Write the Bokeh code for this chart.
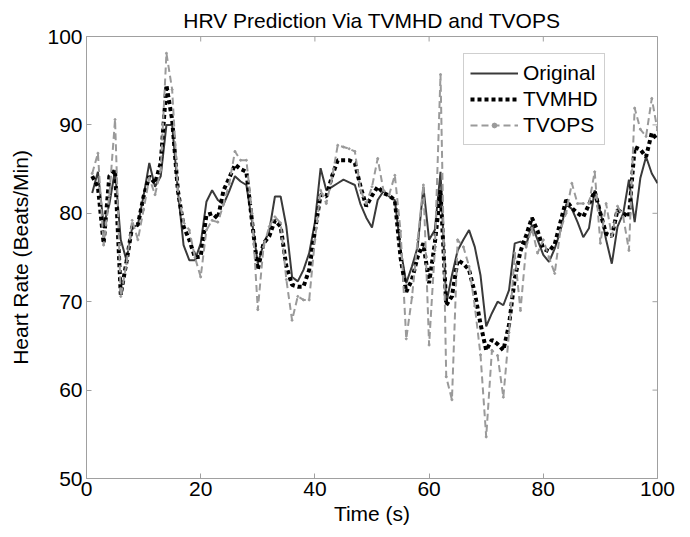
import math
from bokeh.plotting import figure
from bokeh.models import Range1d, FixedTicker, ColumnDataSource, Legend, LegendItem
from bokeh.embed import file_html
from bokeh.resources import INLINE

time_s = list(range(1, 101))

original = [
    82.3, 84.7, 78.7, 81.0, 84.9, 77.0, 74.7, 78.4, 78.7, 82.0,
    85.7, 83.0, 84.2, 90.0, 90.0, 82.6, 76.4, 74.7, 74.7, 76.6,
    81.3, 82.6, 81.5, 81.0, 82.5, 84.2, 83.6, 83.2, 79.0, 74.3,
    76.5, 78.0, 81.9, 81.9, 78.5, 72.8, 72.3, 73.6, 75.5, 79.0,
    85.1, 82.6, 83.0, 83.4, 83.8, 83.5, 83.2, 81.0, 79.5, 78.4,
    81.5, 82.5, 81.9, 81.5, 76.0, 72.1, 74.0, 76.2, 83.0, 77.0,
    78.1, 84.7, 69.8, 73.0, 75.8, 77.0, 78.1, 76.2, 73.0, 67.2,
    68.7, 70.0, 69.6, 71.3, 76.6, 76.8, 76.4, 78.7, 77.0, 75.3,
    74.5, 76.0, 78.0, 81.0, 80.5, 79.0, 77.3, 78.3, 82.6, 80.2,
    77.0, 74.3, 78.5, 80.0, 83.8, 79.0, 84.0, 86.4, 84.5, 83.4,
]

tvmhd = [
    84.2, 83.0, 76.6, 84.2, 84.9, 70.8, 74.5, 78.5, 78.7, 81.9,
    84.2, 83.4, 85.7, 94.5, 90.6, 82.6, 78.5, 77.0, 75.0, 75.1,
    79.8, 80.0, 79.4, 82.6, 84.0, 85.5, 85.0, 84.7, 79.0, 73.6,
    76.6, 77.4, 79.2, 78.5, 74.0, 71.9, 71.7, 71.7, 73.6, 78.0,
    82.1, 81.9, 84.2, 86.0, 86.0, 86.0, 85.7, 83.0, 80.8, 82.0,
    83.0, 82.3, 82.0, 81.5, 75.0, 71.1, 72.5, 75.1, 76.6, 72.1,
    76.6, 82.6, 69.6, 70.6, 74.7, 74.3, 73.6, 71.0, 67.5, 64.5,
    65.7, 65.2, 64.5, 67.4, 72.6, 75.7, 77.5, 79.5, 78.0, 76.0,
    75.7, 76.5, 79.0, 81.5, 80.6, 80.0, 79.6, 81.0, 82.5, 80.0,
    77.7, 77.4, 80.4, 80.0, 79.6, 87.5, 87.2, 86.4, 89.1, 88.3,
]

tvops = [
    84.5, 86.8, 76.4, 82.0, 90.6, 70.6, 74.3, 79.2, 77.0, 80.4,
    84.0, 82.1, 84.9, 98.1, 94.0, 82.6, 79.0, 78.1, 75.0, 72.8,
    78.1, 79.2, 79.0, 81.0, 83.4, 87.0, 86.0, 86.0, 80.0, 69.1,
    76.2, 78.5, 79.6, 78.9, 72.5, 67.9, 70.6, 70.2, 70.2, 77.0,
    82.6, 81.1, 84.0, 87.7, 87.5, 87.3, 87.0, 82.6, 81.1, 83.0,
    86.2, 82.6, 82.1, 84.3, 78.0, 65.8, 70.5, 77.0, 83.2, 65.1,
    75.8, 95.7, 61.5, 58.9, 77.0, 76.2, 74.0, 69.5, 64.0, 54.7,
    64.5, 63.9, 59.2, 66.5, 75.5, 69.0, 76.2, 78.3, 75.5, 77.0,
    75.0, 73.2, 78.1, 80.0, 83.4, 81.1, 81.1, 81.1, 84.7, 76.6,
    81.1, 77.4, 80.8, 79.6, 75.8, 91.9, 89.5, 88.7, 93.0, 89.4,
]

x_ticks = [0, 20, 40, 60, 80, 100]
y_ticks = [50, 60, 70, 80, 90, 100]
series_names = ["Original", "TVMHD", "TVOPS"]

FONT = "Liberation Sans"
FRAME = "#a0a0a0"
FS = "21px"

src = ColumnDataSource(dict(t=time_s, orig=original, mhd=tvmhd, ops=tvops))

p = figure(width=690, height=537, output_backend="svg", toolbar_location=None,
           x_range=Range1d(x_ticks[0], x_ticks[-1]), y_range=Range1d(y_ticks[0], y_ticks[-1]),
           title="HRV Prediction Via TVMHD and TVOPS")
p.min_border_left = 86
p.min_border_right = 33
p.min_border_top = 36
p.min_border_bottom = 59
p.background_fill_color = "white"
p.border_fill_color = "white"
p.outline_line_color = FRAME
p.grid.visible = False

p.title.align = "center"
p.title.text_font = FONT
p.title.text_font_size = FS
p.title.text_font_style = "normal"
p.title.text_color = "black"
p.title.standoff = 9

for ax in (p.xaxis[0], p.yaxis[0]):
    ax.axis_line_color = FRAME
    ax.major_tick_line_color = FRAME
    ax.major_tick_in = 5
    ax.major_tick_out = 0
    ax.minor_tick_line_color = None
    ax.major_label_text_font = FONT
    ax.major_label_text_font_size = FS
    ax.major_label_text_color = "black"
    ax.axis_label_text_font = FONT
    ax.axis_label_text_font_size = FS
    ax.axis_label_text_font_style = "normal"
    ax.axis_label_text_color = "black"

p.xaxis[0].ticker = FixedTicker(ticks=x_ticks)
p.yaxis[0].ticker = FixedTicker(ticks=y_ticks)
p.xaxis[0].axis_label = "Time (s)"
p.yaxis[0].axis_label = "Heart Rate (Beats/Min)"
p.xaxis[0].major_label_standoff = 3
p.yaxis[0].major_label_standoff = 4
p.xaxis[0].axis_label_standoff = 3
p.yaxis[0].axis_label_standoff = 12

# inward tick marks on the top and right edges of the box (MATLAB style)
p.ray(x=x_ticks, y=[y_ticks[-1]] * len(x_ticks), length=5, length_units="screen",
      angle=-math.pi / 2, line_color=FRAME, line_width=1)
p.ray(x=[x_ticks[-1]] * len(y_ticks), y=y_ticks, length=5, length_units="screen",
      angle=math.pi, line_color=FRAME, line_width=1)

r1 = p.line("t", "orig", source=src, line_color="#3a3a3a", line_width=2)
r2 = p.line("t", "mhd", source=src, line_color="black", line_width=4, line_dash="4 3")
r3 = p.line("t", "ops", source=src, line_color="#9a9a9a", line_width=2, line_dash="7 4")
r3m = p.scatter("t", "ops", source=src, size=2, color="#9a9a9a")

legend = Legend(items=[
    LegendItem(label=series_names[0], renderers=[r1]),
    LegendItem(label=series_names[1], renderers=[r2]),
    LegendItem(label=series_names[2], renderers=[r3, r3m]),
], location=(377, 333))
legend.label_text_font = FONT
legend.label_text_font_size = FS
legend.label_text_color = "black"
legend.glyph_width = 48
legend.glyph_height = 12
legend.label_height = 26
legend.spacing = 0
legend.padding = 6
legend.margin = 0
legend.label_standoff = 5
legend.border_line_color = FRAME
legend.background_fill_color = "white"
legend.background_fill_alpha = 1
p.add_layout(legend)

open("out.html", "w").write(file_html(p, INLINE))
